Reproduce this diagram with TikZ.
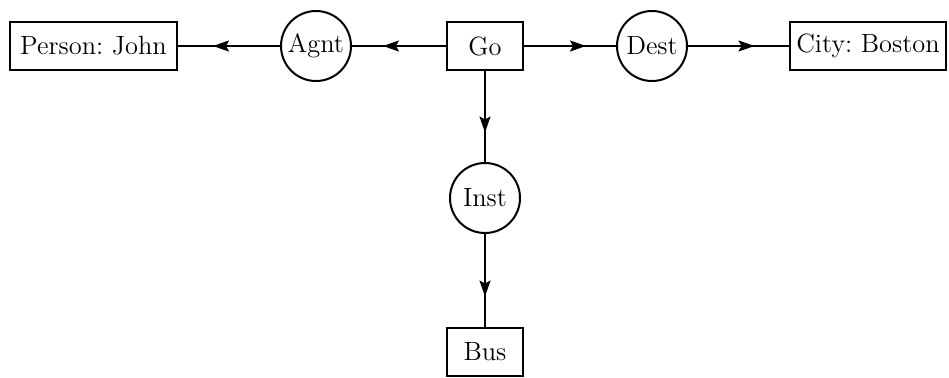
\documentclass[tikz,border=0pt]{standalone}
\usetikzlibrary{arrows.meta,decorations.markings}

\tikzset{
	concept/.style={draw, line width=1pt, rectangle, minimum height=24pt, inner sep=0pt, font=\fontsize{13.2}{15}\selectfont\frenchspacing},
	relation/.style={draw, line width=1pt, circle, minimum size=35pt, inner sep=0pt, font=\fontsize{13.2}{15}\selectfont},
	link/.style={line width=1pt, postaction={decorate},
		decoration={markings, mark=at position 0.5 with {\arrow[xshift=8pt]{Stealth[length=8pt, width=5.5pt, inset=1.5pt]}}}}
}

\begin{document}
\begin{tikzpicture}[x=0.5pt, y=-0.5pt]
	\useasboundingbox (0,0) rectangle (949,377);
	% top row
	\node [concept, minimum width=83.5pt] (john) at (93.5,46) {Person: John};
	\node [relation] (agnt) at (316,46) {Agnt};
	\node [concept, minimum width=38pt] (go) at (485,46) {Go};
	\node [relation] (dest) at (652,46) {Dest};
	\node [concept, minimum width=78pt] (boston) at (868,46) {City: Boston};
	% column
	\node [relation] (inst) at (485,198) {Inst};
	\node [concept, minimum width=38pt] (bus) at (485,352) {Bus};

	\draw [link] (go) -- (agnt);
	\draw [link] (agnt) -- (john);
	\draw [link] (go) -- (dest);
	\draw [link] (dest) -- (boston);
	\draw [link] (go) -- (inst);
	\draw [link] (inst) -- (bus);
\end{tikzpicture}
\end{document}
